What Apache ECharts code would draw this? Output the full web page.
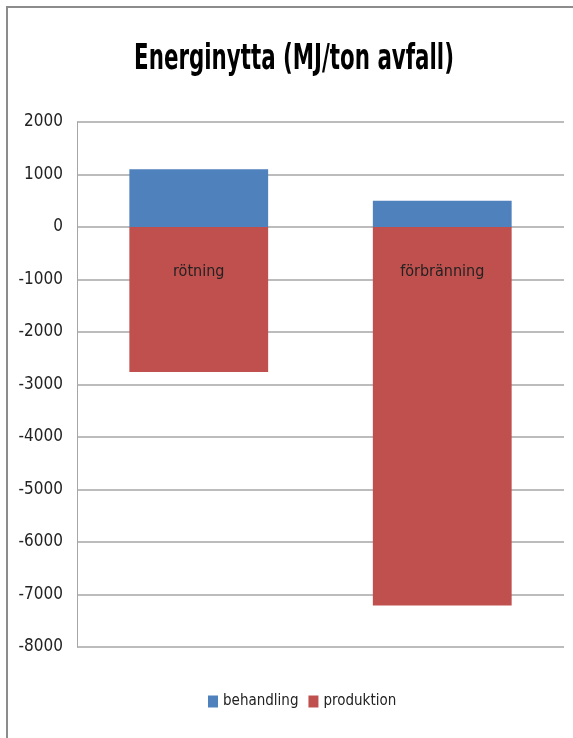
<!DOCTYPE html>
<html><head><meta charset="utf-8">
<script src="https://cdn.jsdelivr.net/npm/echarts@6/dist/echarts.min.js"></script>
<style>html,body{margin:0;padding:0;background:#fff}#c{width:573px;height:738px}</style>
</head><body><div id="c"></div>
<script>
const categories = ['rötning', 'förbränning'];
const behandling = [1100, 500];
const produktion = [-2760, -7210];
const yTicks = {min: -8000, max: 2000, interval: 1000};
const FONT = '"DejaVu Sans Condensed","Liberation Sans Narrow","Liberation Sans",sans-serif';

const chart = echarts.init(document.getElementById('c'));
chart.setOption({
  animation: false,
  backgroundColor: '#fff',
  graphic: [
    {type: 'line', shape: {x1: 6, y1: 7, x2: 573, y2: 7}, style: {stroke: '#8c8c8c', lineWidth: 2}},
    {type: 'line', shape: {x1: 7, y1: 6, x2: 7, y2: 738}, style: {stroke: '#8c8c8c', lineWidth: 2}},
    {type: 'text', x: 294, y: 60, scaleX: 0.66,
     style: {text: 'Energinytta (MJ/ton avfall)', fontFamily: FONT, fontSize: 36, fontWeight: 'bold',
       fill: '#000', textAlign: 'center', textVerticalAlign: 'middle'}}
  ],
  legend: {
    bottom: 24, left: 203, itemWidth: 10, itemHeight: 12, itemGap: 10,
    icon: 'rect',
    textStyle: {fontFamily: FONT, fontSize: 15, color: '#222'},
    data: ['behandling', 'produktion']
  },
  grid: {left: 77, right: 9, top: 122, bottom: 91},
  xAxis: {
    type: 'category', data: categories,
    axisLine: {show: false}, axisTick: {show: false}, axisLabel: {show: false}
  },
  yAxis: {
    type: 'value', min: yTicks.min, max: yTicks.max, interval: yTicks.interval,
    axisLine: {show: true, lineStyle: {color: '#a6a6a6', width: 1}},
    axisTick: {show: false},
    axisLabel: {fontFamily: FONT, fontSize: 17, color: '#222', margin: 14, formatter: v => String(v)},
    splitLine: {lineStyle: {color: '#a6a6a6', width: 1.5}}
  },
  series: [
    {name: 'behandling', type: 'bar', stack: 's', data: behandling, barWidth: '57%',
     itemStyle: {color: '#4f81bd'}},
    {name: 'produktion', type: 'bar', stack: 's', data: produktion, barWidth: '57%',
     itemStyle: {color: '#c0504d'},
     label: {show: true, position: 'insideTop', distance: 37,
       formatter: p => p.name,
       fontFamily: FONT, fontSize: 16, color: '#222'}}
  ]
});
</script></body></html>
